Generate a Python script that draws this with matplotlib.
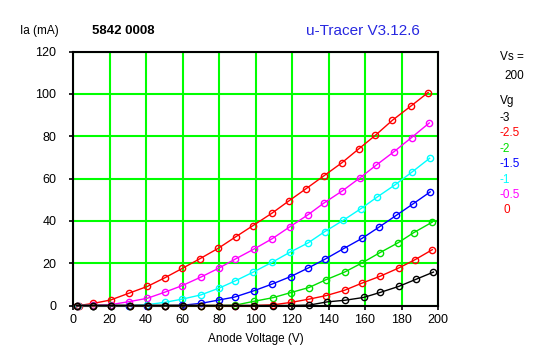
import numpy as np
import matplotlib.pyplot as plt

# measured points, one list per grid voltage
vg_labels = ["-3", "-2.5", "-2", "-1.5", "-1", "-0.5", "0"]
colors = ["black", "#ff0000", "#00e000", "#0000ff", "#00ffff", "#ff00ff", "#ff0000"]

va_0 = [3.3, 11.1, 20.6, 30.6, 40.7, 50.3, 59.8, 69.5, 79.5, 89.2, 98.5, 109.1, 118.2, 127.5, 137.3, 147.2, 156.5, 165.6, 174.9, 185.0, 194.6]
ia_0 = [0, 1.0, 2.6, 5.8, 9.0, 13.1, 17.5, 22.1, 27.0, 32.5, 37.7, 43.7, 49.4, 55.1, 61.2, 67.4, 74.0, 80.4, 87.5, 94.2, 100.7]

va_m05 = [3.0, 11.0, 20.6, 30.6, 40.7, 50.3, 59.8, 70.0, 80.0, 89.0, 99.0, 109.0, 118.8, 128.6, 137.4, 147.6, 157.0, 166.2, 176.0, 185.5, 195.2]
ia_m05 = [0, 0.1, 0.4, 1.8, 3.4, 6.3, 9.4, 13.4, 17.7, 22.0, 26.6, 31.5, 37.2, 42.8, 48.4, 54.2, 60.2, 66.4, 72.8, 79.4, 86.3]

va_m1 = [2.5, 11.0, 20.6, 30.6, 40.7, 50.3, 59.8, 70.0, 80.0, 88.8, 98.8, 109.0, 118.7, 128.8, 137.9, 147.9, 157.8, 166.7, 176.2, 185.9, 195.4]
ia_m1 = [0, 0, 0, 0, 0.4, 1.5, 3.0, 5.0, 8.2, 11.6, 15.8, 20.4, 25.1, 29.6, 34.9, 40.2, 45.8, 51.3, 56.9, 63.2, 69.6]

va_m15 = [2.0, 11.0, 20.6, 30.6, 40.7, 50.3, 59.8, 70.0, 80.0, 88.6, 99.2, 109.0, 119.3, 128.8, 138.3, 148.3, 158.3, 167.4, 177.1, 186.4, 195.7]
ia_m15 = [0, 0, 0, 0, 0, 0, 0.1, 1.0, 2.6, 4.0, 7.0, 10.1, 13.7, 17.7, 22.0, 26.9, 31.7, 36.9, 42.6, 48.1, 53.7]

va_m2 = [2.0, 11.0, 21.0, 31.0, 41.0, 50.5, 60.0, 70.0, 80.0, 88.6, 99.2, 109.6, 119.3, 129.3, 138.4, 148.8, 158.3, 168.0, 178.0, 186.6, 196.8]
ia_m2 = [0, 0, 0, 0, 0, 0, 0, 0, 0, 0.1, 2.0, 3.7, 6.1, 8.5, 12.1, 15.8, 20.1, 24.9, 29.6, 34.4, 39.4]

va_m25 = [2.0, 11.0, 21.0, 31.0, 41.0, 50.5, 60.0, 70.0, 80.0, 89.0, 99.0, 109.5, 119.7, 129.3, 138.8, 148.8, 158.4, 168.2, 178.4, 187.5, 196.9]
ia_m25 = [0, 0, 0, 0, 0, 0, 0, 0, 0, 0, 0, 0.3, 1.5, 3.0, 4.7, 7.2, 10.6, 13.8, 17.7, 21.7, 26.4]

va_m3 = [2.0, 11.0, 21.0, 31.0, 41.0, 50.5, 60.0, 70.0, 80.0, 89.0, 99.0, 109.5, 119.7, 129.5, 139.2, 149.2, 159.2, 168.4, 178.4, 187.7, 197.5]
ia_m3 = [0, 0, 0, 0, 0, 0, 0, 0, 0, 0, 0, 0, 0, 0.2, 1.7, 2.5, 3.8, 6.2, 9.0, 12.3, 15.8]

curves = [(va_m3, ia_m3), (va_m25, ia_m25), (va_m2, ia_m2), (va_m15, ia_m15),
          (va_m1, ia_m1), (va_m05, ia_m05), (va_0, ia_0)]

plt.rcParams['font.family'] = ['Liberation Sans', 'DejaVu Sans']

fig = plt.figure(figsize=(5.47, 3.57), dpi=100)
ax = fig.add_axes([73 / 547, 51.5 / 357, 365 / 547, 253.8 / 357])

ax.set_xlim(0, 200)
ax.set_ylim(0, 120)
ax.set_xticks(np.arange(0, 201, 20))
ax.set_yticks(np.arange(0, 121, 20))
ax.grid(True, color="#00ff00", linewidth=1.5)
ax.set_axisbelow(True)
for s in ax.spines.values():
    s.set_linewidth(1.5)
    s.set_color("black")
ax.tick_params(direction="out", length=3, width=1.2, labelsize=9)
ax.tick_params(axis="y", pad=9)
ax.tick_params(axis="x", pad=3)

# draw lowest curve last so order matches original stacking
for (va, ia), c in zip(curves[::-1], colors[::-1]):
    ax.plot(va, ia, color=c, linewidth=1, marker="o", markersize=4.5,
            markerfacecolor="none", markeredgewidth=1, clip_on=False, zorder=3)

ax.set_xlabel("Anode Voltage (V)", fontsize=8.5, labelpad=5)

fig.text(20 / 547, 1 - 31 / 357, "Ia (mA)", fontsize=8.5, va="center")
fig.text(92 / 547, 1 - 31 / 357, "5842 0008", fontsize=9.5, fontweight="bold", va="center")
fig.text(306 / 547, 1 - 31 / 357, "u-Tracer V3.12.6", fontsize=11, color="#2828e0", va="center")

fig.text(500 / 547, 1 - 57 / 357, "Vs =", fontsize=8.5, va="center")
fig.text(504 / 547, 1 - 76 / 357, "200", fontsize=8.5, va="center")
fig.text(500 / 547, 1 - 101 / 357, "Vg", fontsize=8.5, va="center")
for k, (lab, c) in enumerate(zip(vg_labels, colors)):
    x = 500 if lab != "0" else 504
    fig.text(x / 547, 1 - (118 + k * 15.4) / 357, lab, fontsize=8.5, color=c, va="center")

fig.savefig("out.png", dpi=100)
